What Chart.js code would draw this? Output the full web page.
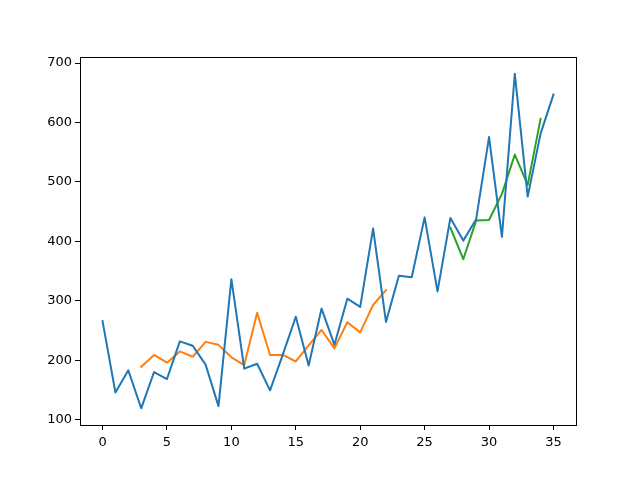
<!DOCTYPE html>
<html lang="en">
<head>
  <meta charset="UTF-8">
  <title>Sales</title>
  <script src="https://cdn.jsdelivr.net/npm/chart.js"></script>
  <style>
    html, body { margin: 0; padding: 0; background: #fff; }
    #wrap { width: 640px; height: 478px; }
  </style>
</head>
<body>
  <div id="wrap"><canvas id="salesChart" width="640" height="478"></canvas></div>
  <script>
    // observed series, months 0..35
    const sales = [266.0, 145.9, 183.1, 119.3, 180.3, 168.5, 231.8, 224.5, 192.8, 122.9,
      336.5, 185.9, 194.3, 149.5, 210.1, 273.3, 191.4, 287.0, 226.0, 303.6,
      289.9, 421.6, 264.5, 342.3, 339.7, 440.4, 315.9, 439.3, 401.3, 437.4,
      575.5, 407.6, 682.0, 475.3, 581.3, 646.9];

    // orange line, months 3..22
    const fitStart = 3;
    const fitValues = [189, 209, 196, 215, 206, 231, 226, 205, 192, 280,
      209, 209, 198, 225, 251, 220, 264, 247, 293, 318];

    // green line, months 27..34
    const predStart = 27;
    const predValues = [423, 370, 435, 436, 480, 546, 495, 606];

    const xTicks = [0, 5, 10, 15, 20, 25, 30, 35];
    const yTicks = [100, 200, 300, 400, 500, 600, 700];

    const toPoints = (start, vals) => vals.map((v, i) => ({ x: start + i, y: v }));

    const frame = {
      id: 'frame',
      afterDraw(chart) {
        const a = chart.chartArea;
        const ctx = chart.ctx;
        ctx.save();
        ctx.strokeStyle = '#000';
        ctx.lineWidth = 1;
        ctx.strokeRect(Math.round(a.left) + 0.5, Math.round(a.top) + 0.5,
          Math.round(a.right - a.left), Math.round(a.bottom - a.top));
        ctx.restore();
      }
    };

    const lineStyle = { borderWidth: 2, pointRadius: 0, tension: 0, fill: false,
      borderJoinStyle: 'round', borderCapStyle: 'square' };

    new Chart(document.getElementById('salesChart').getContext('2d'), {
      type: 'line',
      data: {
        datasets: [
          Object.assign({ data: toPoints(0, sales), borderColor: '#1f77b4' }, lineStyle),
          Object.assign({ data: toPoints(fitStart, fitValues), borderColor: '#ff7f0e' }, lineStyle),
          Object.assign({ data: toPoints(predStart, predValues), borderColor: '#2ca02c' }, lineStyle)
        ]
      },
      options: {
        responsive: false,
        animation: false,
        layout: { padding: { top: 57, right: 64, left: 0, bottom: 0 } },
        plugins: { legend: { display: false }, tooltip: { enabled: false } },
        scales: {
          x: {
            type: 'linear',
            min: -1.75,
            max: 36.75,
            afterBuildTicks: s => { s.ticks = xTicks.map(v => ({ value: v })); },
            afterFit: s => { s.height = 53; },
            grid: { display: true, drawOnChartArea: false, drawTicks: true, tickLength: 5, tickColor: '#000' },
            border: { display: true, color: '#000' },
            ticks: { color: '#000', font: { family: 'DejaVu Sans', size: 13 }, padding: 5, maxRotation: 0 }
          },
          y: {
            min: 91.2,
            max: 710.1,
            afterBuildTicks: s => { s.ticks = yTicks.map(v => ({ value: v })); },
            afterFit: s => { s.width = 80; },
            grid: { display: true, drawOnChartArea: false, drawTicks: true, tickLength: 5, tickColor: '#000' },
            border: { display: true, color: '#000' },
            ticks: { color: '#000', font: { family: 'DejaVu Sans', size: 13 }, padding: 3 }
          }
        }
      },
      plugins: [frame]
    });
  </script>
</body>
</html>
